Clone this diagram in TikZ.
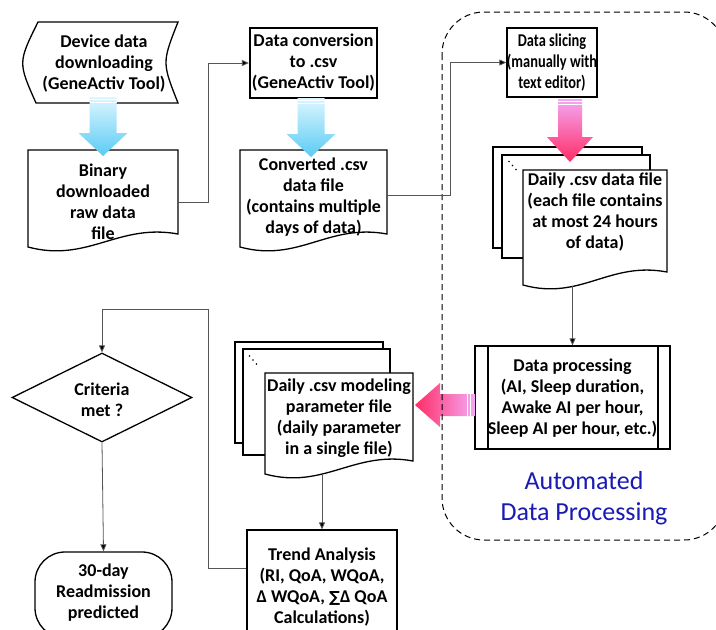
\documentclass[tikz,border=0pt]{standalone}
\usepackage{fontspec}
\usepackage{graphicx}
\setmainfont{Carlito}
\newfontfamily\opsfont{DejaVu Sans}
\usetikzlibrary{arrows.meta,shapes.geometric}
\definecolor{linkgray}{HTML}{555555}
\definecolor{cyanlight}{HTML}{DDF6FF}
\definecolor{cyandeep}{HTML}{5ACBF4}
\definecolor{pinklight}{HTML}{F4A8F4}
\definecolor{pinkdeep}{HTML}{FF2C66}
\definecolor{autoblue}{HTML}{1A1AB4}
\newcommand{\narrow}[1]{\scalebox{0.8}[1]{#1}}
\begin{document}
\begin{tikzpicture}[x=1pt,y=-1pt,
  lbl/.style={font=\fontsize{18}{21}\selectfont\bfseries, align=center, inner sep=0pt},
  shapeline/.style={draw=black, line width=1.3pt, fill=white},
  boxline/.style={draw=black, line width=1.3pt, fill=white, inner sep=0pt},
  link/.style={draw=linkgray, line width=0.8pt},
  linkarrow/.style={link, -{Triangle[length=7pt,width=6pt,fill=black]}},
  stripe/.style={draw=white, line width=0.8pt}
]
\useasboundingbox (0,0) rectangle (716,630);
\fill[white] (0,0) rectangle (716,630);

% ---------- top row ----------
% stored data: device download
\draw[shapeline] (38,22) -- (178,22) .. controls (162,62.5) .. (178,103)
  -- (36,103) .. controls (18,62.5) .. (38,22) -- cycle;
\node[lbl] (dl) at (104,64) {Device data\\downloading\\(GeneActiv Tool)};

% binary raw file (document)
\draw[shapeline] (28,150) -- (178,150) -- (178,234)
  .. controls (118,223) and (88,263) .. (28,247) -- cycle;
\node[lbl] (bin) at (103,202) {Binary\\downloaded\\raw data\\file};

% conversion step
\node[boxline, line width=2.3pt, minimum width=127pt, minimum height=70pt] (conv) at (313.5,63) {};
\node[lbl] (convtxt) at (313.5,63) {Data conversion\\to .csv\\(GeneActiv Tool)};

% converted csv (document)
\draw[shapeline] (240,150) -- (387,150) -- (387,234)
  .. controls (328,223) and (299,263) .. (240,247) -- cycle;
\node[lbl] (csv) at (313.5,197) {Converted .csv\\data file\\(contains multiple\\days of data)};

% slicing step
\node[boxline, minimum width=90pt, minimum height=69pt] (slice) at (552,62.5) {};
\node[lbl] (slicetxt) at (552,63) {\narrow{Data slicing}\\\narrow{(manually with}\\\narrow{text editor)}};

% daily csv stack
\draw[shapeline] (493,147) rectangle (642,248);
\draw[shapeline] (502,155) rectangle (650,258);
\fill (509,161.5) circle[radius=0.9pt] (512.5,165.5) circle[radius=0.9pt] (516,169.5) circle[radius=0.9pt];
\draw[shapeline] (523,170) -- (667,170) -- (667,272)
  .. controls (609,261) and (581,301) .. (523,285) -- cycle;
\node[lbl] (daily) at (595,212) {Daily .csv data file\\(each file contains\\at most 24 hours\\of data)};

% processing step
\node[boxline, minimum width=195pt, minimum height=103pt] (proc) at (572.5,397.5) {};
\draw[line width=1.3pt] (488,346) -- (488,449) (658,346) -- (658,449);
\node[lbl] (proctxt) at (572.5,398.5) {Data processing\\(AI, Sleep duration,\\Awake AI per hour,\\Sleep AI per hour, etc.)};

% modeling parameter stack
\draw[shapeline] (235,342) rectangle (383,443);
\draw[shapeline] (243,349) rectangle (390,455);
\fill (249.5,356) circle[radius=0.9pt] (253,360) circle[radius=0.9pt] (256.5,364) circle[radius=0.9pt];
\draw[shapeline] (265,373) -- (413,373) -- (413,461)
  .. controls (354,450) and (324,490) .. (265,474) -- cycle;
\node[lbl] (model) at (339,418) {Daily .csv modeling\\parameter file\\(daily parameter\\in a single file)};

% trend analysis
\node[boxline, minimum width=150pt, minimum height=106pt] (trend) at (322,583) {};
\node[lbl] (trendtxt) at (322,587) {Trend Analysis\\(RI, QoA, WQoA,\\Δ WQoA, {\opsfont\bfseries\scalebox{0.85}{∑}}Δ QoA\\Calculations)};

% decision and terminator
\node[diamond, draw=black, line width=1.3pt, fill=white, minimum width=180pt, minimum height=89pt, inner sep=0pt] (crit) at (102,397.5) {};
\node[lbl] (crittxt) at (102,400) {Criteria\\met ?};
\node[draw=black, line width=1.3pt, fill=white, rounded corners=30pt, minimum width=137pt, minimum height=86pt, inner sep=0pt] (term) at (103.5,595) {};
\node[lbl] (termtxt) at (103.5,593) {30-day\\Readmission\\predicted};

% ---------- block arrows ----------
\path[top color=cyanlight, bottom color=cyandeep]
  (89.5,97) -- (116.5,97) -- (116.5,133) -- (127.5,133) -- (103,156) -- (78.5,133) -- (89.5,133) -- cycle;
\draw[stripe] (89.5,99) -- (116.5,99) (89.5,102) -- (116.5,102);
\path[top color=cyanlight, bottom color=cyandeep]
  (297.5,98) -- (324.5,98) -- (324.5,134) -- (335.5,134) -- (311,157) -- (286.5,134) -- (297.5,134) -- cycle;
\draw[stripe] (297.5,100) -- (324.5,100) (297.5,103) -- (324.5,103);
\path[top color=pinklight, bottom color=pinkdeep]
  (558,99) -- (582,99) -- (582,137) -- (593,137) -- (570,162) -- (547,137) -- (558,137) -- cycle;
\draw[stripe] (558,101) -- (582,101) (558,104) -- (582,104);
\path[left color=pinkdeep, right color=pinklight]
  (475,394) -- (475,416) -- (440,416) -- (440,427) -- (415,405) -- (440,383) -- (440,394) -- cycle;
\draw[stripe] (470,394) -- (470,416) (467,394) -- (467,416);

% ---------- automated region ----------
\draw[line width=1pt, dash pattern=on 6pt off 4pt, rounded corners=42pt] (442,12) rectangle (726,540);
\node[font=\fontsize{26}{31}\selectfont, text=autoblue, align=center, inner sep=0pt] (auto) at (584,498) {Automated\\Data Processing};

% ---------- connectors ----------
\coordinate (binR) at (178,202);
\coordinate (csvR) at (387,195);
\coordinate (dailyfoot) at (572.5,286);
\coordinate (modelfoot) at (322,475);
\coordinate (loop) at (208,309);
\draw[linkarrow] (binR) -- ++(30,0) |- (conv.west);
\draw[linkarrow] (csvR) -- ++(63,0) |- (slice.west);
\draw[linkarrow] (dailyfoot) -- (proc.north);
\draw[linkarrow] (modelfoot) -- (trend.north);
\draw[linkarrow] ([yshift=15pt]trend.west) -| (loop) -| (crit.north);
\draw[linkarrow] (crit.south) -- (term.north);
\end{tikzpicture}
\end{document}
